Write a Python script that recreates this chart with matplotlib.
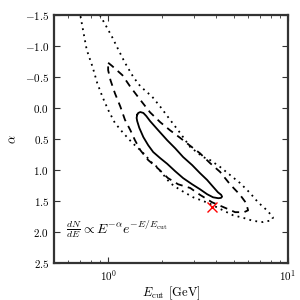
import matplotlib
matplotlib.use("Agg")
import matplotlib.pyplot as plt
from matplotlib.ticker import FuncFormatter, MultipleLocator

plt.rcParams['font.family'] = 'serif'
plt.rcParams['font.serif'] = ['cmr10', 'DejaVu Serif']
plt.rcParams['mathtext.fontset'] = 'cm'
plt.rcParams['axes.formatter.use_mathtext'] = True

# 1-sigma contour (solid)
E1 = [1.45, 1.47, 1.51, 1.57, 1.63, 1.71, 1.90, 2.13, 2.36, 2.61, 2.93, 3.24, 3.55, 3.83,
      4.08, 4.25, 4.30, 4.24, 4.10, 3.83, 3.55, 3.24, 2.93, 2.61, 2.36, 2.13, 1.95, 1.78,
      1.67, 1.57, 1.49, 1.45, 1.44, 1.45]
a1 = [0.11, 0.08, 0.065, 0.08, 0.13, 0.21, 0.36, 0.52, 0.65, 0.79, 0.92, 1.05, 1.16, 1.27,
      1.36, 1.40, 1.43, 1.45, 1.455, 1.44, 1.39, 1.31, 1.23, 1.13, 1.02, 0.90, 0.81, 0.71,
      0.60, 0.47, 0.32, 0.21, 0.16, 0.11]

# 2-sigma contour (dashed)
E2 = [1.00, 1.05, 1.20, 1.33, 1.51, 1.71, 1.95, 2.21, 2.51, 2.86, 3.24, 3.69, 4.19,
      4.76, 5.41, 5.84, 6.00, 5.70, 5.08, 4.47, 3.78, 3.24, 2.86, 2.45, 2.15, 1.90,
      1.67, 1.51, 1.41, 1.33, 1.24, 1.17, 1.09, 1.03, 1.00, 1.00]
a2 = [-0.73, -0.68, -0.53, -0.34, -0.13, 0.07, 0.23, 0.36, 0.48, 0.61, 0.73, 0.89, 1.03,
      1.23, 1.40, 1.53, 1.65, 1.68, 1.68, 1.61, 1.52, 1.40, 1.29, 1.23, 1.13, 0.98,
      0.84, 0.68, 0.52, 0.36, 0.19, -0.02, -0.24, -0.45, -0.61, -0.73]

# 3-sigma contour (dotted), open at the top of the plot
E3 = [0.82, 0.90, 0.975, 1.05, 1.14, 1.24, 1.38, 1.51, 1.76, 1.95, 2.21, 2.51, 2.86,
      3.37, 3.69, 4.19, 4.76, 5.41, 6.15, 6.81, 7.64, 8.25, 8.15, 7.26, 6.39, 5.62,
      4.95, 4.35, 3.59, 2.97, 2.51, 2.21, 1.87, 1.76, 1.55, 1.36, 1.21, 1.09, 1.00,
      0.93, 0.87, 0.82, 0.76, 0.73, 0.70, 0.68]
a3 = [-1.66, -1.50, -1.32, -1.15, -0.94, -0.73, -0.50, -0.35, -0.18, -0.02, 0.19, 0.40, 0.63,
      0.79, 0.84, 0.95, 1.08, 1.21, 1.37, 1.52, 1.65, 1.76, 1.81, 1.84, 1.82, 1.77,
      1.73, 1.65, 1.53, 1.44, 1.32, 1.21, 0.95, 0.89, 0.71, 0.56, 0.40, 0.24, 0.03,
      -0.18, -0.40, -0.66, -0.94, -1.21, -1.50, -1.66]

# best fit point
best_E = [3.78]
best_a = [1.60]

fig = plt.figure(figsize=(3, 3), dpi=100)
ax = fig.add_axes([0.18, 0.1233, 0.78, 0.8267])

ax.plot(E3, a3, color='black', lw=1.3, linestyle=(0, (1, 2.4)))
ax.plot(E2, a2, color='black', lw=1.3, linestyle=(0, (4, 3)))
ax.plot(E1, a1, color='black', lw=1.3, linestyle='-')
ax.plot(best_E, best_a, marker='x', color='red', ms=7, mew=1.0, linestyle='none')

ax.set_xscale('log')
ax.set_xlim(0.5, 10)
ax.set_ylim(2.5, -1.5)
ax.yaxis.set_major_locator(MultipleLocator(0.5))
ax.yaxis.set_major_formatter(FuncFormatter(lambda v, p: f'${v:.1f}$'))

ax.tick_params(which='both', direction='in', top=True, right=True, labelsize=8,
               color='#333333')
ax.tick_params(which='major', length=4, width=0.8)
ax.tick_params(which='minor', length=2, width=0.6)
for s in ax.spines.values():
    s.set_linewidth(1.6)
    s.set_color('#333333')

ax.set_xlabel(r'$E_{\rm cut}$ [GeV]', fontsize=9, labelpad=1)
ax.set_ylabel(r'$\alpha$', fontsize=9)

ax.text(0.584, 1.95, r'$\frac{dN}{dE}\propto E^{-\alpha}e^{-E/E_{\rm cut}}$',
        fontsize=10, ha='left', va='center')

fig.savefig('out.png', dpi=100)
